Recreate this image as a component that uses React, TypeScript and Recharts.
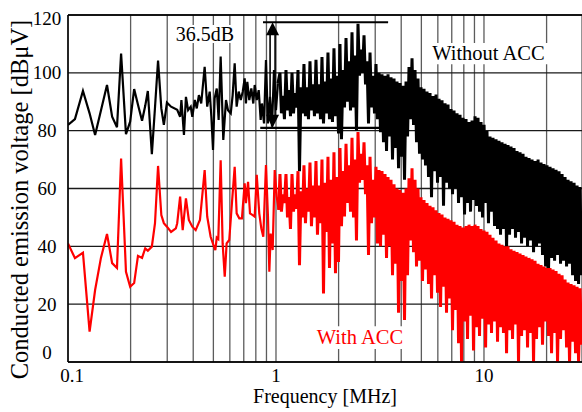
import React from "react";
import { LineChart, Line, XAxis, YAxis, CartesianGrid, ReferenceLine, ReferenceArea } from "recharts";

const FONT = '"Liberation Serif", "Times New Roman", serif';

// below ~1 MHz the harmonics are sparse, so each series keeps its own frequency grid
const blackLowFreq = [
  0.1, 0.108, 0.118, 0.127, 0.135, 0.144, 0.154, 0.163, 0.172, 0.180, 0.190, 0.199,
  0.208, 0.217, 0.227, 0.235, 0.242, 0.253, 0.262, 0.271, 0.281, 0.289, 0.299, 0.313,
  0.335, 0.346, 0.351, 0.361, 0.369, 0.378, 0.389, 0.396, 0.407, 0.416, 0.426, 0.437,
  0.454, 0.467, 0.480, 0.489, 0.498, 0.507, 0.519, 0.530, 0.542, 0.558, 0.575, 0.588,
  0.606, 0.619, 0.633, 0.647, 0.662, 0.677, 0.692, 0.707, 0.717, 0.728, 0.744, 0.761,
  0.778, 0.790, 0.808, 0.826, 0.844, 0.856, 0.876, 0.895, 0.915, 0.936, 0.957, 0.978,
  1.0, 1.022,
];
const blackLowLevel = [
  82, 84, 93.7, 86, 78.5, 87, 95.8, 84.8, 81.2, 106.7, 78.8, 83.1,
  94.4, 89, 83.4, 88.5, 93.7, 71.9, 88, 104.2, 87.7, 82, 89.7, 88.3,
  87.2, 84.8, 90.6, 78.5, 91.7, 87.1, 88.3, 84.8, 90.6, 87.7, 92.3, 89.4,
  102.1, 88.3, 93.5, 84.8, 73.3, 91.2, 94.6, 83.7, 105.6, 76.8, 90.6, 87.1,
  86, 92.3, 103.3, 88.3, 93.5, 90.6, 93.5, 98.1, 89.4, 96.9, 90.6, 94.6,
  89.4, 95.8, 90.6, 94, 83.7, 89.4, 82.5, 104.4, 82.5, 91.7, 81.4, 101,
  87.1, 96.4,
];

const redLowFreq = [
  0.1, 0.108, 0.118, 0.127, 0.135, 0.144, 0.154, 0.163, 0.172, 0.180, 0.190, 0.199,
  0.208, 0.217, 0.227, 0.235, 0.242, 0.253, 0.262, 0.271, 0.281, 0.289, 0.299, 0.313,
  0.330, 0.335, 0.346, 0.356, 0.369, 0.381, 0.396, 0.411, 0.431, 0.454, 0.467, 0.485,
  0.500, 0.511, 0.519, 0.528, 0.542, 0.554, 0.567, 0.579, 0.596, 0.614, 0.633, 0.647,
  0.666, 0.686, 0.707, 0.717, 0.734, 0.750, 0.773, 0.790, 0.808, 0.831, 0.850, 0.869,
  0.895, 0.915, 0.929, 0.943, 0.964, 0.986, 1.008, 1.030,
];
const redLowLevel = [
  41, 35.9, 37.8, 10.5, 24.9, 36, 44.3, 34.2, 32.5, 70.4, 31.2, 26,
  27.3, 36.7, 36, 39.3, 38.5, 39.9, 48, 67.8, 50.8, 48, 46.8, 45,
  46.2, 48, 57.2, 45.6, 56.6, 49.1, 46.8, 45.6, 49.1, 66.4, 50.3, 43.3,
  40.5, 38.7, 43, 42.5, 69.8, 41, 29.5, 41, 42.2, 54.9, 67.5, 51.4,
  49.7, 49.7, 61.8, 54.9, 62.3, 51.4, 50.8, 50.3, 64.7, 51.4, 46.2, 43.3,
  68.1, 50.3, 31.2, 44.4, 38.7, 66.4, 57.2, 52.6,
];

// above 1 MHz the spectrum is dense: readings alternate between peaks and troughs
const denseFreq = [
  1.045, 1.062, 1.080, 1.098, 1.117, 1.136, 1.155, 1.174, 1.194, 1.214,
  1.234, 1.255, 1.276, 1.297, 1.319, 1.341, 1.363, 1.386, 1.409, 1.433,
  1.457, 1.481, 1.506, 1.531, 1.557, 1.583, 1.610, 1.637, 1.664, 1.692,
  1.720, 1.749, 1.778, 1.808, 1.838, 1.869, 1.900, 1.932, 1.965, 1.998,
  2.031, 2.065, 2.100, 2.135, 2.171, 2.207, 2.244, 2.282, 2.320, 2.359,
  2.398, 2.438, 2.479, 2.521, 2.563, 2.606, 2.650, 2.694, 2.739, 2.785,
  2.832, 2.879, 2.927, 2.976, 3.026, 3.077, 3.129, 3.181, 3.234, 3.288,
  3.344, 3.400, 3.457, 3.515, 3.573, 3.633, 3.694, 3.756, 3.819, 3.883,
  3.948, 4.014, 4.081, 4.149, 4.219, 4.290, 4.361, 4.434, 4.509, 4.585,
  4.661, 4.739, 4.818, 4.899, 4.981, 5.064, 5.149, 5.235, 5.323, 5.412,
  5.503, 5.595, 5.689, 5.784, 5.881, 5.979, 6.080, 6.182, 6.285, 6.390,
  6.497, 6.606, 6.717, 6.829, 6.944, 7.060, 7.178, 7.298, 7.421, 7.545,
  7.671, 7.799, 7.930, 8.063, 8.198, 8.335, 8.475, 8.617, 8.761, 8.908,
  9.057, 9.209, 9.363, 9.520, 9.679, 9.841, 10.01, 10.18, 10.34, 10.51,
  10.69, 10.87, 11.05, 11.24, 11.43, 11.62, 11.81, 12.01, 12.21, 12.41,
  12.63, 12.84, 13.05, 13.27, 13.49, 13.72, 13.95, 14.18, 14.42, 14.66,
  14.91, 15.16, 15.41, 15.67, 15.93, 16.20, 16.47, 16.75, 17.03, 17.31,
  17.60, 17.89, 18.20, 18.50, 18.81, 19.12, 19.45, 19.78, 20.10, 20.44,
  20.78, 21.13, 21.49, 21.85, 22.21, 22.58, 22.96, 23.34, 23.74, 24.14,
  24.54, 24.95, 25.37, 25.79, 26.23, 26.67, 27.11, 27.56, 28.03, 28.50,
  28.98, 29.46,
];
const blackDense = [
  100, 86, 92, 84, 101, 87, 94, 85, 100, 86,
  93, 88, 101, 66, 95, 86, 103, 85, 95, 84,
  104, 87, 96, 85, 104.5, 86, 96, 84, 105.5, 82.5,
  97, 86, 107, 84, 98, 83, 108.5, 85, 99, 79,
  110, 77, 101, 88, 112, 90, 104, 87, 114, 88,
  106, 80, 117, 99, 108, 100, 113, 96, 104, 82.5,
  107, 88, 99, 86, 103, 84, 100, 79.5, 99.5, 76,
  99, 73, 99.5, 78, 98.5, 70, 98, 74, 97, 67,
  96.5, 71, 95.5, 63, 97, 78, 102, 84, 105, 82,
  101, 76, 98, 72, 95, 70, 94.5, 68, 93.5, 64,
  93, 57, 92, 66, 92.5, 62, 91, 64, 90.5, 54,
  89.5, 62, 89, 60, 87.5, 58, 87, 60, 86, 55,
  85.5, 57, 84.5, 51, 84, 55, 83, 52, 83.5, 56,
  85, 54, 84.5, 52, 83, 50, 82, 55, 80, 48,
  78, 52, 77.5, 47, 77, 46, 76.5, 44, 76, 46,
  75.5, 39, 75, 44, 74.5, 46, 74, 43, 73, 45,
  72.5, 41, 72, 43, 71, 40, 70.5, 42, 70, 38,
  69.5, 40, 70, 41, 69, 37, 68.5, 33, 68, 32,
  67.5, 36, 67, 35, 66.5, 37, 66, 34, 65, 35,
  64, 33, 63, 34, 62.5, 30, 62, 28, 61, 27,
  60.5, 30,
];
const redDense = [
  65, 52, 58, 55, 65, 50, 57, 46, 65, 52,
  58, 53, 66, 33.5, 59, 50, 68, 48, 60, 52,
  69, 47, 61, 50, 69.5, 44, 61, 48, 70, 23.7,
  62, 45, 71, 32.5, 63, 41, 72.5, 30.7, 64, 34.6,
  74, 47, 66, 50.3, 75.5, 55, 68, 52, 77.5, 50,
  70, 42, 79.5, 62, 72, 63, 76, 58, 68, 37,
  71, 48, 63, 50, 67.5, 41, 66.4, 40, 66, 44,
  65, 36, 64, 40, 63, 30, 61.5, 34, 60, 17,
  59.5, 28, 58.5, 14.5, 60, 30, 63.5, 42, 67, 38,
  63, 33, 60, 35, 57, 28, 56, 32, 55, 27,
  54, 22, 53.5, 30, 52.5, 24, 51.5, 19, 51, 26,
  50, 17, 49.5, 22, 49, 11, 48.5, 18, 47.5, 6.5,
  47, 0, 46.5, 14, 47, 8, 47.5, 16, 47, 4,
  47.5, 12, 47, 9, 46, 15, 45.5, 5, 45, 13,
  44, 10, 43, 14, 42, 7, 41, 12, 40.5, 10,
  40, 3, 40, 11, 39, 8, 38.5, 13, 38, 0,
  37.5, 9, 37, 11, 36.5, 5, 36, 10, 35.5, 0,
  35, 8, 34, 12, 33.5, 6, 33, 14, 32.5, 9,
  32.5, 3, 32, 10, 31.5, 0, 30.5, 8, 30, 11,
  28.5, 5, 27.5, 0, 27, 7, 26.5, 3, 26, 0,
  25.5, 6,
];

const xTicks = [0.1, 0.2, 0.3, 0.4, 0.5, 0.6, 0.7, 0.8, 0.9, 1, 2, 3, 4, 5, 6, 7, 8, 9, 10, 20];
const xLabels = [0.1, 1, 10];
const yTicks = [0, 20, 40, 60, 80, 100, 120];

const blackLowData = blackLowFreq.map((f, i) => ({ f, v: blackLowLevel[i] }));
const redLowData = redLowFreq.map((f, i) => ({ f, v: redLowLevel[i] }));
// dense part is drawn with a heavier stroke; it starts from the last sparse reading so the trace stays joined
const blackDenseData = [
  blackLowData[blackLowData.length - 1],
  ...denseFreq.map((f, i) => ({ f, v: blackDense[i] })),
];
const redDenseData = [
  redLowData[redLowData.length - 1],
  ...denseFreq.map((f, i) => ({ f, v: redDense[i] })),
];

function XTick({ x, y, payload }: any) {
  if (!xLabels.includes(payload.value)) return <g />;
  const dx = payload.value === 0.1 ? 4 : 0;
  return (
    <text x={x + dx} y={y + 20} textAnchor="middle" fontFamily={FONT} fontSize={19} fill="#000">
      {payload.value}
    </text>
  );
}

function YTick({ x, y, payload }: any) {
  let dy = 6.5;
  if (payload.value === 0) dy = -3;
  if (payload.value === 120) dy = 10;
  return (
    <text x={x - 21} y={y + dy} textAnchor="middle" fontFamily={FONT} fontSize={19} fill="#000">
      {payload.value}
    </text>
  );
}

function boxLabel(text: string, color: string, size: number) {
  return (props: any) => {
    const { x, y, width, height } = props.viewBox;
    return (
      <text x={x + width / 2} y={y + height / 2 + size * 0.33} textAnchor="middle"
        fontFamily={FONT} fontSize={size} fill={color}>
        {text}
      </text>
    );
  };
}

function DoubleArrow(props: any) {
  const { x1, y1, y2 } = props;
  const top = Math.min(y1, y2);
  const bottom = Math.max(y1, y2);
  return (
    <g>
      <line x1={x1 - 2.5} y1={top + 12} x2={x1 - 2.5} y2={bottom - 12} stroke="#000" strokeWidth={1.6} />
      <line x1={x1 + 2.5} y1={top + 12} x2={x1 + 2.5} y2={bottom - 12} stroke="#000" strokeWidth={1.6} />
      <polygon points={`${x1},${top} ${x1 - 6.5},${top + 13} ${x1 + 6.5},${top + 13}`} fill="#000" />
      <polygon points={`${x1},${bottom} ${x1 - 6.5},${bottom - 13} ${x1 + 6.5},${bottom - 13}`} fill="#000" />
    </g>
  );
}

export default function App() {
  return (
    <div style={{ position: "absolute", left: 0, top: 0, width: 582, height: 412, background: "#fff" }}>
      <LineChart width={582} height={412} margin={{ top: 15, right: 0, bottom: 20, left: 8 }}>
        <CartesianGrid horizontal={false} stroke="#5c5c5c" strokeWidth={1.3} />
        <CartesianGrid vertical={false} stroke="#1a1a1a" strokeWidth={1.3} />
        <XAxis
          type="number"
          dataKey="f"
          scale="log"
          domain={[0.1, 29.6]}
          ticks={xTicks}
          interval={0}
          allowDataOverflow
          height={30}
          tickLine={false}
          tickSize={0}
          tickMargin={0}
          axisLine={{ stroke: "#000", strokeWidth: 1.5 }}
          tick={<XTick />}
          label={{
            content: (p: any) => (
              <text x={p.viewBox.x + p.viewBox.width / 2} y={p.viewBox.y + 41} textAnchor="middle"
                fontFamily={FONT} fontSize={20} fill="#000">
                Frequency [MHz]
              </text>
            ),
          }}
        />
        <YAxis
          type="number"
          domain={[0, 120]}
          ticks={yTicks}
          interval={0}
          allowDataOverflow
          width={60}
          tickLine={false}
          tickSize={0}
          tickMargin={0}
          axisLine={{ stroke: "#000", strokeWidth: 1.5 }}
          tick={<YTick />}
          label={{
            content: (p: any) => {
              const cx = p.viewBox.x + 20;
              const cy = p.viewBox.y + p.viewBox.height / 2 + 11;
              return (
                <text x={cx} y={cy} transform={`rotate(-90 ${cx} ${cy})`} textAnchor="middle"
                  fontFamily={FONT} fontSize={24.5} fill="#000">
                  Conducted emission voltage [dBμV]
                </text>
              );
            },
          }}
        />
        <ReferenceLine y={120} stroke="#000" strokeWidth={1.5} />
        <Line data={blackLowData} dataKey="v" type="linear" stroke="#000" strokeWidth={2.2} dot={false} isAnimationActive={false} />
        <Line data={blackDenseData} dataKey="v" type="linear" stroke="#000" strokeWidth={3} dot={false} isAnimationActive={false} />
        <Line data={redLowData} dataKey="v" type="linear" stroke="#ff0000" strokeWidth={2.2} dot={false} isAnimationActive={false} />
        <Line data={redDenseData} dataKey="v" type="linear" stroke="#ff0000" strokeWidth={3} dot={false} isAnimationActive={false} />
        <ReferenceArea x1={0.316} x2={0.657} y1={110.3} y2={116.5} fill="#fff" fillOpacity={1} stroke="none"
          label={boxLabel("36.5dB", "#000", 20)} />
        <ReferenceArea x1={5.31} x2={20.8} y1={103} y2={110.3} fill="#fff" fillOpacity={1} stroke="none"
          label={boxLabel("Without ACC", "#000", 20.5)} />
        <ReferenceArea x1={1.49} x2={4.31} y1={4.5} y2={12.4} fill="#fff" fillOpacity={1} stroke="none"
          label={boxLabel("With ACC", "#ff0000", 20.5)} />
        <ReferenceLine segment={[{ x: 0.866, y: 117.5 }, { x: 3.46, y: 117.5 }]} stroke="#000" strokeWidth={2.2} />
        <ReferenceLine segment={[{ x: 0.84, y: 81 }, { x: 3.25, y: 81 }]} stroke="#000" strokeWidth={2.2} />
        <ReferenceLine segment={[{ x: 0.963, y: 117.5 }, { x: 0.963, y: 81 }]} shape={DoubleArrow} />
      </LineChart>
    </div>
  );
}
